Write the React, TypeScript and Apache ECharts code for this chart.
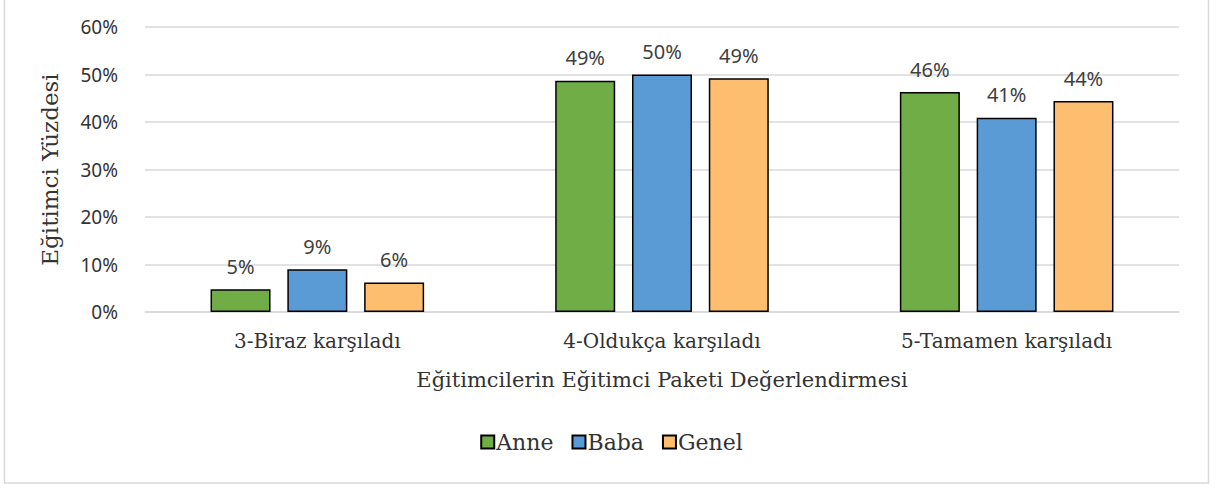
import React, { useEffect, useRef } from "react";
import * as echarts from "echarts";

const categories = ["3-Biraz karşıladı", "4-Oldukça karşıladı", "5-Tamamen karşıladı"];
const anne = [4.8, 48.7, 46.3];
const baba = [9.0, 50.0, 40.9];
const genel = [6.2, 49.2, 44.4];
const seriesNames = ["Anne", "Baba", "Genel"];
const seriesColors = ["#70AD47", "#5B9BD5", "#FDBF6F"];
const yTicks = { min: 0, max: 60, interval: 10 };

const SERIF = "'DejaVu Serif', serif";
const SANS = "'Noto Sans', sans-serif";

export default function App() {
  const ref = useRef<HTMLDivElement>(null);
  useEffect(() => {
    document.body.style.margin = "0";
    const chart = echarts.init(ref.current!, null, { renderer: "svg" });
    const data = [anne, baba, genel];
    chart.setOption({
      animation: false,
      backgroundColor: "#ffffff",
      graphic: [
        {
          type: "rect",
          shape: { x: 4.5, y: -2, width: 1204, height: 485 },
          style: { fill: "none", stroke: "#d9d9d9", lineWidth: 1.5 },
          silent: true,
        },
      ],
      grid: { left: 145, right: 44, top: 27, bottom: 177 },
      legend: {
        bottom: 31,
        left: "center",
        itemWidth: 13,
        itemHeight: 13,
        itemGap: 18,
        icon: "rect",
        textStyle: { fontFamily: SERIF, fontSize: 22, color: "#333", padding: [0, 0, 0, -3] },
        data: seriesNames,
      },
      xAxis: {
        type: "category",
        data: categories,
        axisLine: { lineStyle: { color: "#d9d9d9", width: 1.5 } },
        axisTick: { show: false },
        axisLabel: { fontFamily: SERIF, fontSize: 20, color: "#333", margin: 19 },
        name: "Eğitimcilerin Eğitimci Paketi Değerlendirmesi",
        nameLocation: "middle",
        nameGap: 57,
        nameTextStyle: { fontFamily: SERIF, fontSize: 21, color: "#333" },
      },
      yAxis: {
        type: "value",
        min: yTicks.min,
        max: yTicks.max,
        interval: yTicks.interval,
        axisLine: { show: false },
        axisTick: { show: false },
        splitLine: { lineStyle: { color: "#d9d9d9", width: 1.5 } },
        axisLabel: { fontFamily: SANS, fontSize: 19, color: "#333", margin: 27, formatter: "{value}%" },
        name: "Eğitimci Yüzdesi",
        nameLocation: "middle",
        nameGap: 84,
        nameTextStyle: { fontFamily: SERIF, fontSize: 23, color: "#333" },
      },
      series: seriesNames.map((n, i) => ({
        name: n,
        type: "bar",
        data: data[i],
        barWidth: 60,
        barGap: "28%",
        itemStyle: { color: seriesColors[i], borderColor: "#000", borderWidth: 1.5 },
        label: {
          show: true,
          position: "top",
          distance: 13,
          fontFamily: SANS,
          fontSize: 20,
          color: "#404040",
          formatter: (p: any) => Math.round(p.value) + "%",
        },
      })),
    });
    return () => chart.dispose();
  }, []);
  return <div ref={ref} style={{ width: 1223, height: 489 }} />;
}
